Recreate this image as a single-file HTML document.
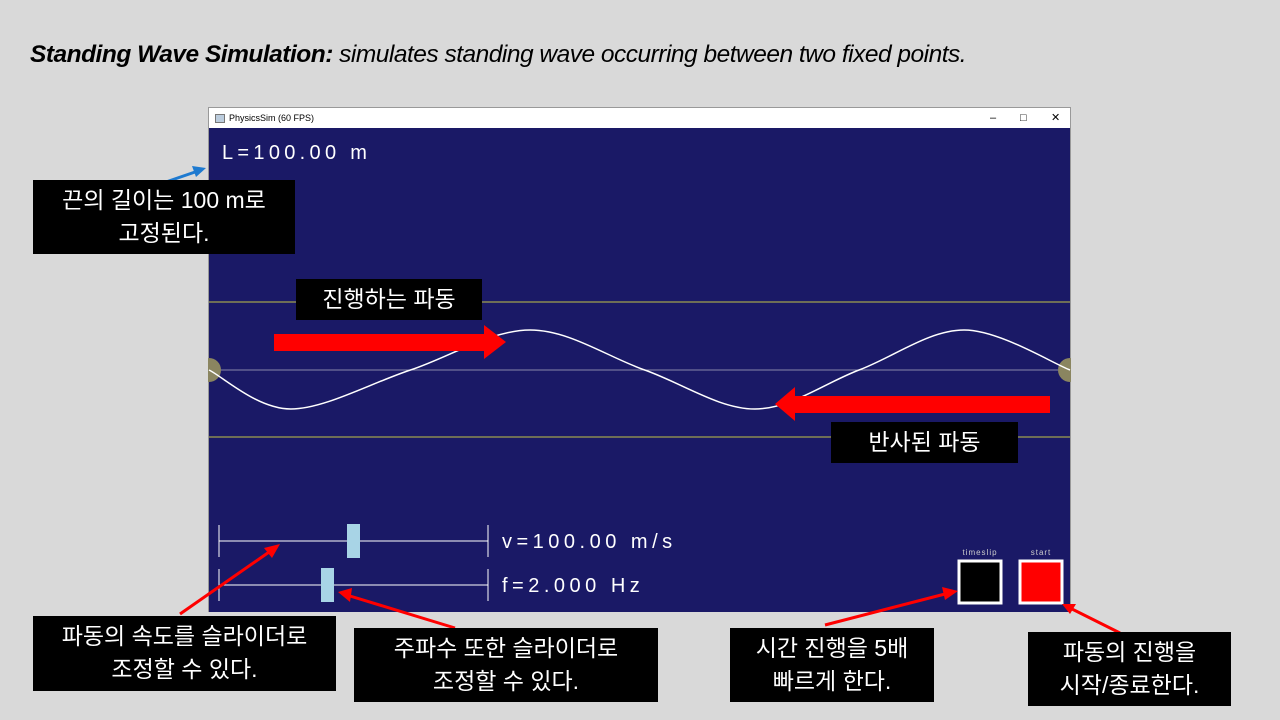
<!DOCTYPE html>
<html><head><meta charset="utf-8"><style>
body{margin:0;width:1280px;height:720px;background:#d9d9d9;position:relative;overflow:hidden;font-family:"Liberation Sans","Noto Sans CJK KR",sans-serif}
.box{position:absolute;background:#000;color:#fff;font-size:23px;text-align:center;line-height:33px;font-family:"Liberation Sans","Noto Sans CJK KR",sans-serif}
.wc{position:absolute;top:0;font-size:11px;line-height:20px;white-space:nowrap}
</style></head><body>
<div style="position:absolute;left:30px;top:41px;font-size:24.5px;font-style:italic;color:#000;letter-spacing:-0.5px"><b>Standing Wave Simulation:</b> simulates standing wave occurring between two fixed points.</div>
<div style="position:absolute;left:208px;top:107px;width:863px;height:505px;background:#fff;border:1px solid #999;box-sizing:border-box">
 <div style="height:20px;font-size:9px;line-height:20px;padding-left:20px;color:#000;position:relative">PhysicsSim (60 FPS)<span style="position:absolute;left:6px;top:6px;width:8px;height:7px;border:1px solid #777;background:#bcd"></span>
  <span class="wc" style="left:781px">–</span>
  <span class="wc" style="left:811px">□</span>
  <span class="wc" style="left:842px">✕</span>
 </div>
</div>
<svg style="position:absolute;left:0;top:0" width="1280" height="720">
 <rect x="209" y="128" width="861" height="484" fill="#1a1966"/>
 <text x="222" y="159" fill="#fff" font-size="20" letter-spacing="4.3" font-family="Liberation Sans,sans-serif">L=100.00 m</text>
 <line x1="209" y1="302" x2="1070" y2="302" stroke="#8a8a50" stroke-width="1.5"/>
 <line x1="209" y1="437" x2="1070" y2="437" stroke="#8a8a50" stroke-width="1.5"/>
 <line x1="209" y1="370" x2="1070" y2="370" stroke="#8888aa" stroke-width="1"/>
 <circle cx="209" cy="370" r="12" fill="#8a8560"/>
 <circle cx="1070" cy="370" r="12" fill="#8a8560"/>
 <rect x="190" y="355" width="18" height="30" fill="#d9d9d9"/>
 <rect x="1071" y="355" width="12" height="30" fill="#d9d9d9"/>
 <path id="wave" fill="none" stroke="#fff" stroke-width="1.5"/>
 <g>
  <line x1="219" y1="541" x2="488" y2="541" stroke="#fff"/><line x1="219" y1="525" x2="219" y2="557" stroke="#fff"/><line x1="488" y1="525" x2="488" y2="557" stroke="#fff"/>
  <rect x="347" y="524" width="13" height="34" fill="#a8d4e6"/>
 </g>
 <text x="502" y="548" fill="#fff" font-size="20" letter-spacing="4.5">v=100.00 m/s</text>
 <g>
  <line x1="219" y1="585" x2="488" y2="585" stroke="#fff"/><line x1="219" y1="569" x2="219" y2="601" stroke="#fff"/><line x1="488" y1="569" x2="488" y2="601" stroke="#fff"/>
  <rect x="321" y="568" width="13" height="34" fill="#a8d4e6"/>
 </g>
 <text x="502" y="592" fill="#fff" font-size="20" letter-spacing="4.5">f=2.000 Hz</text>
 <text x="980" y="555" fill="#ccc" font-size="8" text-anchor="middle" letter-spacing="1">timeslip</text>
 <text x="1041" y="555" fill="#ccc" font-size="8" text-anchor="middle" letter-spacing="1">start</text>
 <rect x="959" y="561" width="42" height="42" fill="#000" stroke="#fff" stroke-width="3"/>
 <rect x="1020" y="561" width="42" height="42" fill="#f00" stroke="#fff" stroke-width="3"/>
 <g fill="#f00" stroke="#f00">
  <rect x="274" y="334" width="210" height="17" stroke="none"/><polygon points="484,325 506,342 484,359" stroke="none"/>
  <rect x="795" y="396" width="255" height="17" stroke="none"/><polygon points="795,387 775,404 795,421" stroke="none"/>
  <line x1="180" y1="614" x2="272" y2="550" stroke-width="3"/><polygon points="280,544 264,548 272,558" stroke="none"/>
  <line x1="455" y1="628" x2="350" y2="596" stroke-width="3"/><polygon points="338,592 352,588 350,602" stroke="none"/>
  <line x1="825" y1="625" x2="945" y2="594" stroke-width="3"/><polygon points="958,591 942,587 945,600" stroke="none"/>
  <line x1="1120" y1="633" x2="1070" y2="608" stroke-width="3"/><polygon points="1062,604 1076,604 1070,614" stroke="none"/>
 </g>
 <line x1="163" y1="183" x2="198" y2="171" stroke="#1e7ad0" stroke-width="3"/><polygon points="206,168 192,166 196,177" fill="#1e7ad0"/>
</svg>
<div class="box" style="left:33px;top:180px;width:262px;height:74px;padding-top:4px;box-sizing:border-box">끈의 길이는 100 m로<br>고정된다.</div>
<div class="box" style="left:296px;top:279px;width:186px;height:41px;line-height:41px">진행하는 파동</div>
<div class="box" style="left:831px;top:422px;width:187px;height:41px;line-height:41px">반사된 파동</div>
<div class="box" style="left:33px;top:616px;width:303px;height:75px;padding-top:4px;box-sizing:border-box">파동의 속도를 슬라이더로<br>조정할 수 있다.</div>
<div class="box" style="left:354px;top:628px;width:304px;height:74px;padding-top:4px;box-sizing:border-box">주파수 또한 슬라이더로<br>조정할 수 있다.</div>
<div class="box" style="left:730px;top:628px;width:204px;height:74px;padding-top:4px;box-sizing:border-box">시간 진행을 5배<br>빠르게 한다.</div>
<div class="box" style="left:1028px;top:632px;width:203px;height:74px;padding-top:4px;box-sizing:border-box">파동의 진행을<br>시작/종료한다.</div>
<script>
const positions=[0,9.5,23.4,37.3,50.6,63.4,75.5,87.7,100];
const displacements=[0,-39,0,40,0,-39,0,40,0];
const x0=209,x1=1070,yc=370;
const sx=v=>x0+(x1-x0)*v/100, sy=v=>yc-v;
const pts=positions.map((p,i)=>[sx(p),sy(displacements[i])]);
let d='M'+pts[0][0]+','+pts[0][1];
for(let i=0;i<pts.length-1;i++){
 const p0=pts[i-1]||pts[i],p1=pts[i],p2=pts[i+1],p3=pts[i+2]||p2;
 const c1=[p1[0]+(p2[0]-p0[0])/6,p1[1]+(p2[1]-p0[1])/6],c2=[p2[0]-(p3[0]-p1[0])/6,p2[1]-(p3[1]-p1[1])/6];
 d+=` C${c1[0]},${c1[1]} ${c2[0]},${c2[1]} ${p2[0]},${p2[1]}`;
}
document.getElementById('wave').setAttribute('d',d);
</script>
</body></html>
